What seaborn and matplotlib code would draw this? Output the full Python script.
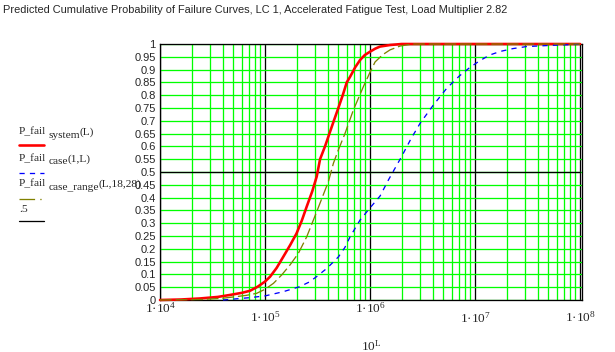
import numpy as np
import pandas as pd
import seaborn as sns
import matplotlib.pyplot as plt
from matplotlib.ticker import LogLocator, MultipleLocator, NullFormatter

# exponent L (x axis shows 10^L) and probability of failure
L_system = [4.0, 4.2, 4.38, 4.55, 4.67, 4.78, 4.857, 4.93, 5.0, 5.048, 5.11, 5.174, 5.24, 5.30,
            5.35, 5.397, 5.45, 5.492, 5.524, 5.571, 5.613, 5.655, 5.698, 5.74, 5.778, 5.81,
            5.86, 5.905, 5.95, 6.0, 6.05, 6.095, 6.19, 6.3, 8.0]
p_system = [0.0, 0.002, 0.006, 0.012, 0.02, 0.028, 0.036, 0.052, 0.072, 0.091, 0.125, 0.169,
            0.215, 0.26, 0.31, 0.365, 0.425, 0.482, 0.55, 0.60, 0.65, 0.70, 0.75, 0.80, 0.85,
            0.872, 0.91, 0.9375, 0.957, 0.97, 0.982, 0.99, 0.996, 1.0, 1.0]

L_case = [4.6, 4.85, 5.0, 5.17, 5.33, 5.42, 5.49, 5.59, 5.70, 5.76, 5.81, 5.905, 6.0, 6.095,
          6.175, 6.3, 6.39, 6.476, 6.6, 6.73, 6.85, 6.952, 7.05, 7.14, 7.24, 7.36, 7.49,
          7.74, 8.0]
p_case = [0.0, 0.009, 0.016, 0.032, 0.052, 0.07, 0.091, 0.124, 0.169, 0.205, 0.247, 0.3125,
          0.36, 0.406, 0.469, 0.56, 0.63, 0.69, 0.76, 0.827, 0.875, 0.909, 0.936, 0.957,
          0.971, 0.982, 0.99, 0.995, 0.999]

L_range = [4.0, 4.4, 4.6, 4.7, 4.82, 4.92, 5.0, 5.08, 5.159, 5.24, 5.317, 5.397, 5.492,
           5.603, 5.651, 5.698, 5.762, 5.841, 5.936, 6.0, 6.048, 6.12, 6.19, 6.286, 6.4, 8.0]
p_range = [0.0, 0.002, 0.007, 0.012, 0.018, 0.026, 0.042, 0.065, 0.098, 0.138, 0.182, 0.247,
           0.345, 0.462, 0.534, 0.586, 0.651, 0.742, 0.833, 0.89, 0.93, 0.958, 0.977, 0.992,
           1.0, 1.0]

L_half = [4.0, 8.0]
p_half = [0.5, 0.5]

decades = [4, 5, 6, 7, 8]
title = "Predicted Cumulative Probability of Failure Curves, LC 1, Accelerated Fatigue Test, Load Multiplier 2.82"

sns.set_style("white")
plt.rcParams['mathtext.fontset'] = 'custom'
plt.rcParams['mathtext.rm'] = 'Liberation Serif'
plt.rcParams['mathtext.it'] = 'Liberation Serif'

W, H = 615, 352
fig = plt.figure(figsize=(W / 100, H / 100), dpi=100)
ax = fig.add_axes([160 / W, 1 - 300 / H, 422 / W, 256 / H])

px = 0.72  # one pixel in points
sns.lineplot(x=10 ** np.array(L_system), y=p_system, ax=ax, color="#ff0000",
             lw=2.6 * px, sort=False, clip_on=False, zorder=3)
sns.lineplot(x=10 ** np.array(L_case), y=p_case, ax=ax, color="#0000ff",
             lw=1.3 * px, sort=False, clip_on=False, zorder=4)
ax.lines[-1].set_dashes((4, 4))
sns.lineplot(x=10 ** np.array(L_range), y=p_range, ax=ax, color="#808000",
             lw=1.3 * px, sort=False, clip_on=False, zorder=5)
ax.lines[-1].set_dashes((9, 3))
sns.lineplot(x=10 ** np.array(L_half), y=p_half, ax=ax, color="black",
             lw=1.3 * px, sort=False, zorder=2)

ax.set_xscale("log")
ax.set_xlim(1e4, 10 ** 8.018)
ax.set_ylim(0, 1)
ax.xaxis.set_minor_locator(LogLocator(base=10, subs=np.arange(2, 10)))
ax.xaxis.set_minor_formatter(NullFormatter())
ax.set_xticks([10.0 ** d for d in decades])
ax.set_xticklabels(["1·10$^{%d}$" % d for d in decades], family="Liberation Serif", fontsize=9.5)
ax.yaxis.set_major_locator(MultipleLocator(0.05))
ax.set_yticklabels(["%g" % v for v in np.round(ax.get_yticks(), 2)],
                   family="Liberation Sans", fontsize=8)
ax.tick_params(length=0)
ax.tick_params(axis="y", pad=3)
for t, pad in zip(ax.xaxis.get_major_ticks(), [1, 7, 1, 8, 7]):
    t.set_pad(pad)

ax.grid(True, which="minor", axis="x", color="#00ff00", lw=1.3 * px, zorder=1)
ax.grid(True, which="major", axis="x", color="black", lw=1.3 * px, zorder=1)
ax.grid(True, which="major", axis="y", color="#00ff00", lw=1.3 * px, zorder=1)
ax.set_axisbelow(True)
for s in ax.spines.values():
    s.set_color("black")
    s.set_linewidth(1.3 * px)

ax.set_xlabel("10$^{L}$", family="Liberation Serif", fontsize=9.5, labelpad=9.5)
ax.set_ylabel("")

fig.text(3 / W, 1 - 10 / H, title, family="Liberation Sans", fontsize=7.9,
         ha="left", va="center")

# legend block on the left: name, subscript shifted down, argument list
legend_items = [
    ("P_fail", "system", "(L)", dict(color="#ff0000", lw=2.6 * px)),
    ("P_fail", "case", "(1,L)", dict(color="#0000ff", lw=1.3 * px, dashes=(4, 4))),
    ("P_fail", "case_range", "(L,18,28)", dict(color="#808000", lw=1.3 * px, dashes=(12, 4, 1, 4))),
    (".5", "", "", dict(color="black", lw=1.3 * px)),
]
baseline_y = [134.5, 161.5, 186.5, 211.5]
line_y = [145, 173, 199, 221]
renderer = fig.canvas.get_renderer()
font = dict(family="Liberation Serif", fontsize=8.2, va="baseline", ha="left")
for (name, sub, args, style), by, ly in zip(legend_items, baseline_y, line_y):
    t1 = fig.text(19 / W, 1 - by / H, name, **font)
    if sub:
        x2 = t1.get_window_extent(renderer).x1 + 2
        t2 = fig.text(x2 / W, 1 - (by + 3) / H, sub, **font)
        x3 = t2.get_window_extent(renderer).x1
        fig.text(x3 / W, 1 - by / H, args, **font)
    fig.add_artist(plt.Line2D([19 / W, 44 / W], [1 - ly / H, 1 - ly / H],
                              transform=fig.transFigure, **style))

fig.savefig("out.png", dpi=100)
